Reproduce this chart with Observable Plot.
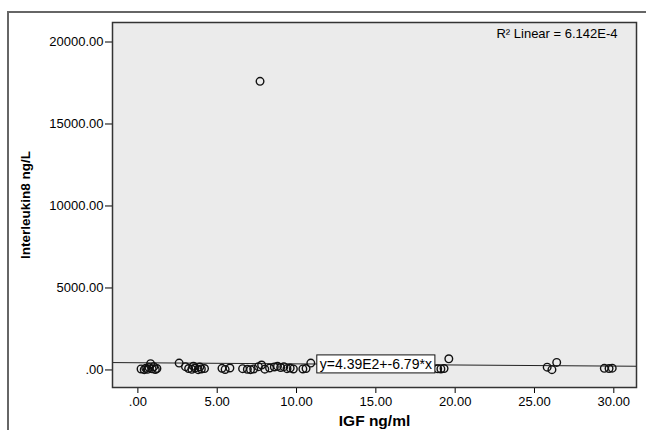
<!DOCTYPE html>
<html>
<head>
<meta charset="utf-8">
<script src="https://cdn.jsdelivr.net/npm/d3@7"></script>
<script src="https://cdn.jsdelivr.net/npm/@observablehq/plot@0.6"></script>
<style>
  html, body { margin: 0; padding: 0; background: #fff; overflow: hidden; }
  #wrap { position: relative; width: 646px; height: 430px; overflow: hidden; font-family: "Liberation Sans", Arial, sans-serif; }
  #outer { position: absolute; left: 7px; top: 11px; width: 800px; height: 600px; border-left: 2px solid #666; border-top: 2px solid #666; }
  #chart { position: absolute; left: 0; top: 0; }
  #chart svg g[aria-label="x-axis label"] text { font-weight: bold; font-size: 15.5px; }
  #chart svg g[aria-label="y-axis label"] text { font-weight: bold; font-size: 13.5px; }
</style>
</head>
<body>
<div id="wrap"><div id="outer"></div><div id="chart"></div></div>
<script>
// IGF (ng/ml) values of each case
const igf = [0.2, 0.4, 0.5, 0.6, 0.7, 0.8, 0.9, 1.0, 1.1, 1.2,
  2.6, 3.0, 3.2, 3.4, 3.5, 3.6, 3.8, 3.9, 4.0, 4.2,
  5.3, 5.5, 5.8,
  6.6, 6.9, 7.1, 7.3, 7.6, 7.8, 8.0, 8.3, 8.6, 8.8, 9.0, 9.2, 9.4, 9.6, 9.8,
  7.7,
  10.4, 10.6, 10.9,
  18.9, 19.1, 19.3, 19.6,
  25.8, 26.1, 26.4,
  29.4, 29.7, 29.9];
// Interleukin8 (ng/L) values of each case
const il8 = [60, 20, 110, 40, 150, 380, 70, 200, 30, 90,
  420, 200, 90, 40, 230, 120, 20, 180, 60, 90,
  100, 30, 120,
  80, 40, 20, 60, 200, 300, 50, 120, 180, 230, 150, 200, 80, 120, 60,
  17600,
  60, 90, 420,
  70, 60, 90, 680,
  170, 20, 460,
  100, 90, 110];
// Fit shown on the chart
const fitIntercept = 439;
const fitSlope = -6.79;
const fitLabel = "y=4.39E2+-6.79*x";
const fitLabelX = 15;
const r2Label = "R\u00B2 Linear = 6.142E-4";
// Axis
const xDomain = [-1.6, 31.43];
const yDomain = [-1070, 21190];
const xTicks = [0, 5, 10, 15, 20, 25, 30];
const yTicks = [0, 5000, 10000, 15000, 20000];
const xTitle = "IGF ng/ml";
const yTitle = "Interleukin8 ng/L";

const points = igf.map((x, i) => ({x, y: il8[i]}));
const fitLine = xDomain.map(x => ({x, y: fitIntercept + fitSlope * x}));
const fmt = d => d3.format(".2f")(d).replace(/^0\./, ".");

const plot = Plot.plot({
  width: 646,
  height: 430,
  marginLeft: 112,
  marginRight: 10,
  marginTop: 22,
  marginBottom: 43,
  style: {fontFamily: "Liberation Sans, Arial, sans-serif", fontSize: "12px", background: "transparent", color: "#000", overflow: "visible"},
  x: {domain: xDomain},
  y: {domain: yDomain},
  marks: [
    Plot.frame({fill: "#ebebeb"}),
    Plot.line(fitLine, {x: "x", y: "y", stroke: "#222", strokeWidth: 1}),
    Plot.dot(points, {x: "x", y: "y", r: 3.8, stroke: "#111", strokeWidth: 1.4, fill: "none"}),
    Plot.text([fitLabel], {x: () => fitLabelX, y: () => fitIntercept + fitSlope * fitLabelX, text: d => d, fill: "#000", fontSize: 14, textAnchor: "middle"}),
    Plot.text([r2Label], {frameAnchor: "top-right", dx: -19, dy: 6, text: d => d, fill: "#000", fontSize: 13, textAnchor: "end", lineAnchor: "top"}),
    Plot.axisX({ticks: xTicks, tickFormat: fmt, tickSize: 6, tickPadding: 3, label: xTitle, labelAnchor: "center", labelArrow: "none", labelOffset: 38, fontSize: 13}),
    Plot.axisY({ticks: yTicks, tickFormat: fmt, tickSize: 7, tickPadding: 2, label: yTitle, labelAnchor: "center", labelArrow: "none", labelOffset: 92, fontSize: 13}),
    Plot.frame({stroke: "#333", strokeWidth: 1.5})
  ]
});
document.getElementById("chart").appendChild(plot);

// box behind the fit equation
for (const t of plot.querySelectorAll("text")) {
  if (t.textContent === fitLabel) {
    const b = t.getBBox();
    const rect = document.createElementNS("http://www.w3.org/2000/svg", "rect");
    rect.setAttribute("x", b.x - 3);
    rect.setAttribute("y", b.y - 1);
    rect.setAttribute("width", b.width + 6);
    rect.setAttribute("height", b.height + 2);
    rect.setAttribute("fill", "#fff");
    rect.setAttribute("stroke", "#111");
    rect.setAttribute("stroke-width", "1");
    const tr = t.getAttribute("transform");
    if (tr) rect.setAttribute("transform", tr);
    t.parentNode.insertBefore(rect, t);
  }
}
</script>
</body>
</html>
